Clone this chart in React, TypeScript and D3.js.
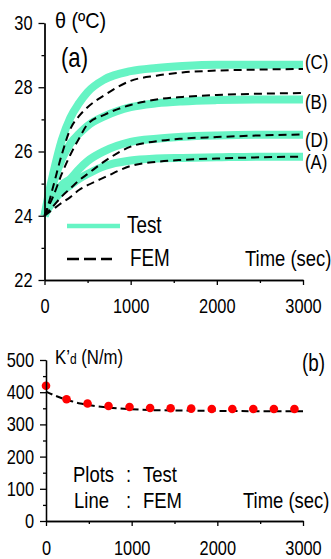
import { useRef, useEffect } from 'react';
import * as d3 from 'd3';

// (a) temperature rise, test vs FEM
const TIME = [0, 50, 100, 200, 300, 400, 500, 700, 1000, 1300, 1600, 2000, 2500, 3000];
const TEST_C = [24, 24.7, 25.3, 26.35, 27.05, 27.5, 27.85, 28.25, 28.5, 28.6, 28.66, 28.7, 28.7, 28.7];
const FEM_C = [24, 24.4, 24.9, 25.9, 26.7, 27.1, 27.38, 27.76, 28.2, 28.36, 28.46, 28.52, 28.55, 28.57];
const TEST_B = [24, 24.5, 25.0, 25.75, 26.25, 26.55, 26.8, 27.1, 27.38, 27.5, 27.56, 27.6, 27.62, 27.62];
const FEM_B = [24, 24.3, 24.6, 25.3, 25.9, 26.4, 26.85, 27.15, 27.45, 27.62, 27.7, 27.76, 27.8, 27.82];
const TEST_D = [24, 24.3, 24.55, 24.95, 25.15, 25.45, 25.7, 26.02, 26.3, 26.4, 26.46, 26.5, 26.52, 26.52];
const FEM_D = [24, 24.15, 24.3, 24.6, 24.85, 25.1, 25.3, 25.7, 26.15, 26.32, 26.4, 26.45, 26.5, 26.53];
const TEST_A = [24, 24.25, 24.45, 24.75, 24.95, 25.15, 25.3, 25.55, 25.72, 25.78, 25.8, 25.82, 25.84, 25.84];
const FEM_A = [24, 24.1, 24.2, 24.4, 24.58, 24.8, 24.95, 25.2, 25.55, 25.68, 25.74, 25.78, 25.82, 25.84];
const CASE_LABELS = ['(C)', '(B)', '(D)', '(A)'];
const CASE_LABEL_Y = [28.79, 27.54, 26.36, 25.67];

// (b) K'd, test points + FEM line
const K_TIME = [0, 240, 485, 730, 975, 1215, 1455, 1695, 1935, 2175, 2420, 2660, 2900];
const K_TEST = [420, 378, 365, 357, 354, 351, 350, 349, 348, 348, 348, 348, 348];
const K_FEM_TIME = [0, 100, 200, 300, 400, 500, 700, 1000, 1300, 1600, 2000, 2500, 3000];
const K_FEM = [402, 390, 380, 372, 365, 360, 353, 347, 344, 343, 342, 341, 341];

const X_TICKS = [0, 1000, 2000, 3000];
const X_MINOR = [500, 1500, 2500];
const THETA_TICKS = [22, 24, 26, 28, 30];
const THETA_MINOR = [23, 25, 27, 29];
const K_TICKS = [0, 100, 200, 300, 400, 500];
const K_MINOR = [50, 150, 250, 350, 450];

const TEST_COLOR = '#66f4c4';
const FONT = '"Liberation Sans", Arial, sans-serif';
const SQ = 0.82; // narrow the glyphs like Arial Narrow

export default function App() {
  const svgRef = useRef<SVGSVGElement>(null);

  useEffect(() => {
    const svg = d3.select(svgRef.current);
    svg.selectAll('*').remove();
    svg.style('font-family', FONT);

    const styleAxis = (s: any, left: boolean) => {
      s.select('.domain').attr('stroke', '#000').attr('stroke-width', 1.3);
      s.selectAll('line').attr('stroke', '#000').attr('stroke-width', 1.3);
      s.selectAll('text').attr('fill', '#000').style('font-size', '20px').style('font-family', FONT)
        .attr('transform', `scale(${SQ},1)`);
      if (left) s.selectAll('text').attr('x', -12 / SQ);
    };

    const label = (x: number, y: number, txt: string, size: number, sq = SQ) =>
      svg.append('text').attr('transform', `translate(${x},${y}) scale(${sq},1)`)
        .style('font-size', `${size}px`).attr('fill', '#000').text(txt);

    // ── (a) ─────────────────────────────────────────────
    const xa = d3.scaleLinear().domain([0, 3000]).range([44.5, 303]);
    const ya = d3.scaleLinear().domain([22, 30]).range([280, 23]);
    const ga = svg.append('g');

    const curves: [number[], number[]][] = [
      [TEST_C, FEM_C], [TEST_B, FEM_B], [TEST_D, FEM_D], [TEST_A, FEM_A],
    ];
    const lineA = d3.line<[number, number]>().x(d => xa(d[0])).y(d => ya(d[1])).curve(d3.curveMonotoneX);
    curves.forEach(([t]) => {
      ga.append('path').datum(TIME.map((tm, i) => [tm, t[i]] as [number, number]))
        .attr('fill', 'none').attr('stroke', TEST_COLOR).attr('stroke-width', 8)
        .attr('stroke-linejoin', 'round').attr('d', lineA);
    });
    curves.forEach(([, f]) => {
      ga.append('path').datum(TIME.map((tm, i) => [tm, f[i]] as [number, number]))
        .attr('fill', 'none').attr('stroke', '#000').attr('stroke-width', 2)
        .attr('stroke-dasharray', '8,5').attr('d', lineA);
    });

    ga.append('g').attr('transform', `translate(${xa(0)},0)`)
      .call(d3.axisLeft(ya).tickValues(THETA_MINOR).tickSize(3).tickSizeOuter(0).tickFormat(() => ''))
      .call(s => styleAxis(s, true));
    ga.append('g').attr('transform', `translate(${xa(0)},0)`)
      .call(d3.axisLeft(ya).tickValues(THETA_TICKS).tickSize(6).tickSizeOuter(0).tickPadding(6))
      .call(s => styleAxis(s, true));
    ga.append('g').attr('transform', `translate(0,${ya(22)})`)
      .call(d3.axisBottom(xa).tickValues(X_MINOR).tickSize(3).tickSizeOuter(0).tickFormat(() => ''))
      .call(s => styleAxis(s, false));
    ga.append('g').attr('transform', `translate(0,${ya(22)})`)
      .call(d3.axisBottom(xa).tickValues(X_TICKS).tickSize(5).tickSizeOuter(0).tickFormat(d3.format('d')))
      .call(s => styleAxis(s, false))
      .call(s => s.selectAll('text').attr('y', 33).attr('dy', 0));

    CASE_LABELS.forEach((lab, i) => {
      ga.append('text').attr('transform', `translate(305,${ya(CASE_LABEL_Y[i])}) scale(${SQ},1)`)
        .attr('dy', '0.35em').style('font-size', '20.5px').text(lab);
    });

    label(55, 28, 'θ (ºC)', 22, 0.9);
    label(61, 67, '(a)', 27);

    // legend
    svg.append('line').attr('x1', 67).attr('x2', 120).attr('y1', 226).attr('y2', 226)
      .attr('stroke', TEST_COLOR).attr('stroke-width', 4.5);
    label(127, 233, 'Test', 23);
    svg.append('line').attr('x1', 67).attr('x2', 112).attr('y1', 259).attr('y2', 259)
      .attr('stroke', '#000').attr('stroke-width', 2.3).attr('stroke-dasharray', '12,5');
    label(130, 266, 'FEM', 23);
    label(245, 266, 'Time (sec)', 22.5);

    // ── (b) ─────────────────────────────────────────────
    const xb = d3.scaleLinear().domain([0, 3000]).range([46, 303]);
    const yb = d3.scaleLinear().domain([0, 500]).range([521, 360]);
    const gb = svg.append('g');

    gb.append('path').datum(K_FEM_TIME.map((t, i) => [t, K_FEM[i]] as [number, number]))
      .attr('fill', 'none').attr('stroke', '#000').attr('stroke-width', 2)
      .attr('stroke-dasharray', '7,4')
      .attr('d', d3.line<[number, number]>().x(d => xb(d[0])).y(d => yb(d[1])).curve(d3.curveMonotoneX));
    gb.selectAll('circle').data(K_TIME).join('circle')
      .attr('cx', d => xb(d)).attr('cy', (_, i) => yb(K_TEST[i]))
      .attr('r', 4.3).attr('fill', '#ff0000');

    gb.append('g').attr('transform', `translate(${xb(0)},0)`)
      .call(d3.axisLeft(yb).tickValues(K_MINOR).tickSize(3).tickSizeOuter(0).tickFormat(() => ''))
      .call(s => styleAxis(s, true));
    gb.append('g').attr('transform', `translate(${xb(0)},0)`)
      .call(d3.axisLeft(yb).tickValues(K_TICKS).tickSize(6).tickSizeOuter(0).tickPadding(6))
      .call(s => styleAxis(s, true));
    gb.append('g').attr('transform', `translate(0,${yb(0)})`)
      .call(d3.axisBottom(xb).tickValues(X_MINOR).tickSize(3).tickSizeOuter(0).tickFormat(() => ''))
      .call(s => styleAxis(s, false));
    gb.append('g').attr('transform', `translate(0,${yb(0)})`)
      .call(d3.axisBottom(xb).tickValues(X_TICKS).tickSize(5).tickSizeOuter(0).tickFormat(d3.format('d')))
      .call(s => styleAxis(s, false))
      .call(s => s.selectAll('text').attr('y', 34).attr('dy', 0));

    const kd = svg.append('text').attr('transform', `translate(55,364) scale(0.86,1)`)
      .style('font-size', '19.5px').attr('fill', '#000');
    kd.append('tspan').text('K\u2019');
    kd.append('tspan').style('font-size', '14px').text('d');
    kd.append('tspan').text(' (N/m)');
    label(302, 371, '(b)', 23);

    label(73, 482, 'Plots', 21.5, 0.86);
    label(126, 482, ':', 21.5, 0.86);
    label(143, 482, 'Test', 21.5, 0.86);
    label(74, 508, 'Line', 21.5, 0.86);
    label(126, 508, ':', 21.5, 0.86);
    label(143, 508, 'FEM', 21.5, 0.86);
    label(243, 508, 'Time (sec)', 22.5);
  }, []);

  return (
    <svg ref={svgRef} width={331} height={559}
      style={{ position: 'absolute', left: 0, top: 0, background: '#fff' }} />
  );
}
